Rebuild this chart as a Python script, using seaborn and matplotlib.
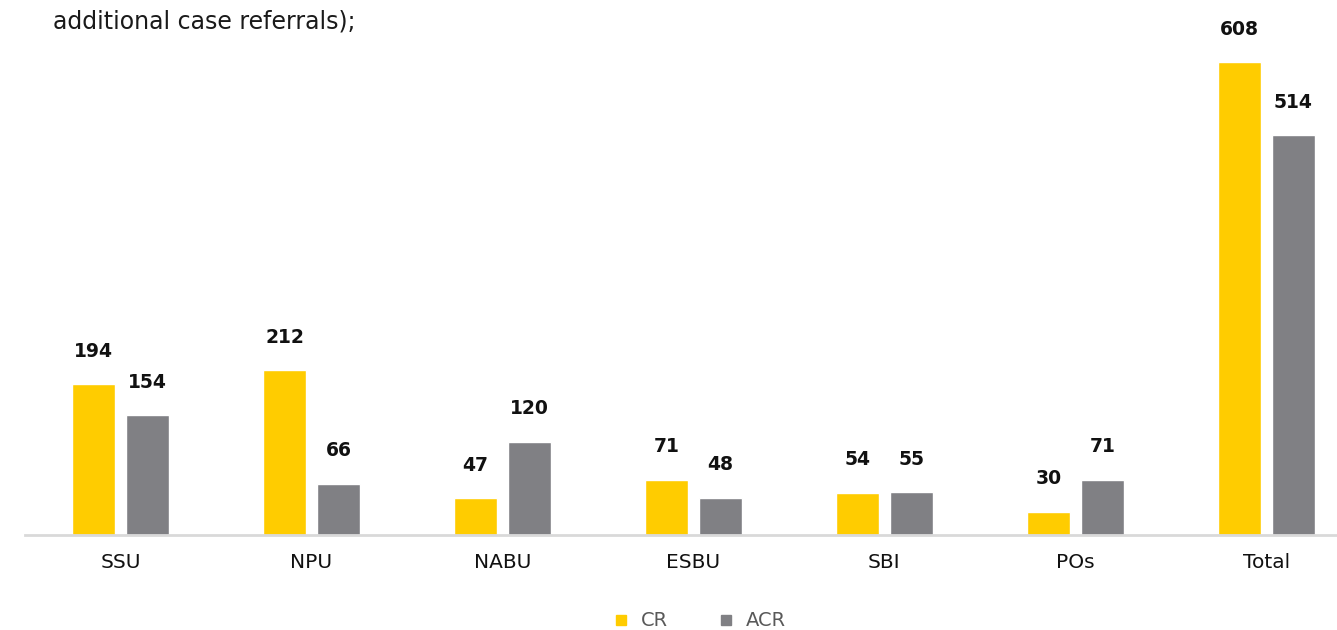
import pandas as pd
import matplotlib.pyplot as plt
import seaborn as sns
from matplotlib.lines import Line2D

agencies = ["SSU", "NPU", "NABU", "ESBU", "SBI", "POs", "Total"]
cr_values = [194, 212, 47, 71, 54, 30, 608]
acr_values = [154, 66, 120, 48, 55, 71, 514]
series_names = ["CR", "ACR"]
colors = ["#FFCC00", "#808084"]

df = pd.DataFrame({
    "agency": agencies * 2,
    "count": cr_values + acr_values,
    "type": [series_names[0]] * len(agencies) + [series_names[1]] * len(agencies),
})

sns.set_style("white")
plt.rcParams["font.family"] = ["DejaVu Sans"]

fig = plt.figure(figsize=(13.37, 6.3), dpi=100)
ax = fig.add_axes([25 / 1337, 95 / 630, 1312 / 1337, 535 / 630])

sns.barplot(data=df, x="agency", y="count", hue="type", palette=colors,
            saturation=1, width=0.565, gap=0.2, ax=ax, legend=False)

for container in ax.containers:
    ax.bar_label(container, padding=17, fontsize=13.5, fontweight="bold",
                 color="#111111")

ax.set_xlim(-0.5, 6.37)
ax.set_ylim(0, 688)
ax.set_xlabel("")
ax.set_ylabel("")
ax.set_yticks([])
ax.tick_params(axis="x", length=0, pad=13, labelsize=14.5, labelcolor="#111111")
for side in ["top", "right", "left"]:
    ax.spines[side].set_visible(False)
ax.spines["bottom"].set_color("#D9D9D9")
ax.spines["bottom"].set_linewidth(2)

fig.text(53 / 1337, 1 - 21 / 630, "additional case referrals);", fontsize=17,
         color="#1a1a1a", va="center", ha="left")

handles = [Line2D([0], [0], marker="s", linestyle="", markersize=7,
                  markerfacecolor=c, markeredgecolor=c) for c in colors]
fig.legend(handles, series_names, loc="center", bbox_to_anchor=(694 / 1337, 1 - 621 / 630),
           ncol=2, frameon=False, fontsize=14, handletextpad=0.0,
           columnspacing=2.0, labelcolor="#595959")

fig.savefig("out.png", dpi=100)
